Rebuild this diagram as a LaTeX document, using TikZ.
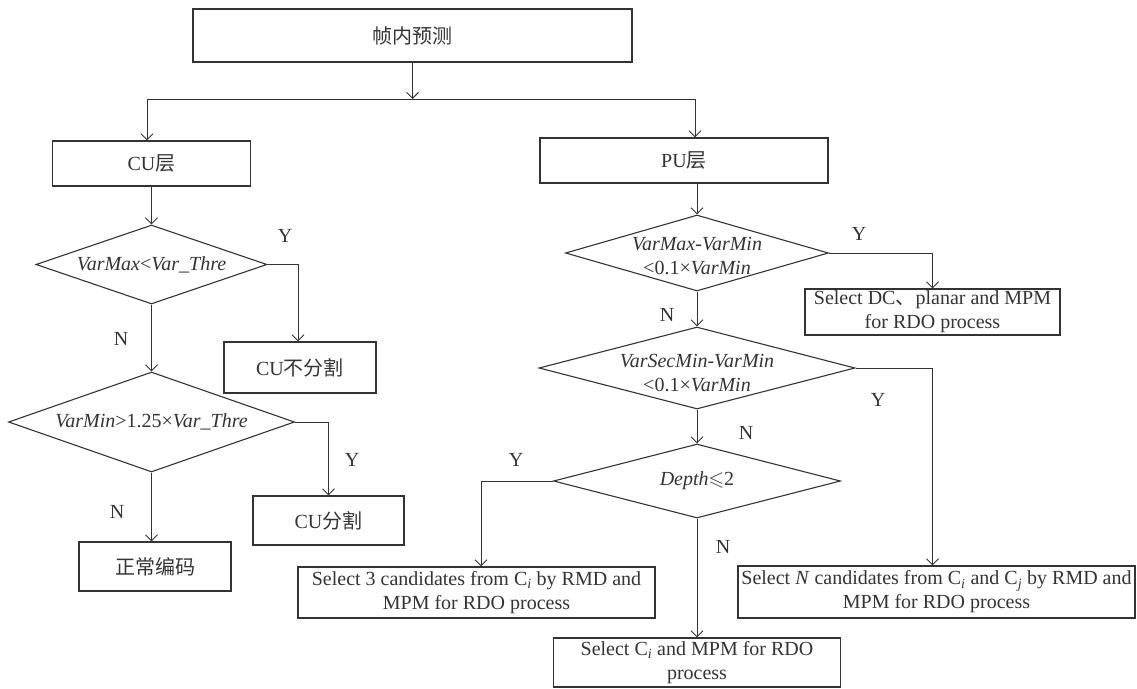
\documentclass[tikz,border=0pt]{standalone}
\usepackage{fontspec}
\usepackage{amssymb}
\setmainfont{Liberation Serif}
\newfontfamily\cjk{Noto Sans CJK SC}
\usetikzlibrary{arrows.meta,shapes.geometric}
\definecolor{ink}{HTML}{333333}
\begin{document}
\begin{tikzpicture}[x=1pt,y=-1pt,
  every node/.style={text=ink, font=\fontsize{20}{24}\selectfont},
  box/.style={draw=ink, line width=1.1pt, inner sep=0pt, align=center},
  dia/.style={draw=ink, line width=1.1pt, diamond, inner sep=0pt},
  arr/.style={draw=ink, line width=1pt, -{Straight Barb[length=6pt,width=12pt]}},
  lbl/.style={inner sep=0pt, align=center}]
\useasboundingbox (0,0) rectangle (1137,688);

% boxes
\node[box, minimum width=439pt, minimum height=53pt] (top) at (412.5,35.5) {{\cjk 帧内预测}};
\node[box, minimum width=198pt, minimum height=45pt] (cu) at (151.5,163.5) {CU{\cjk 层}};
\node[box, minimum width=288pt, minimum height=45pt] (pu) at (684,160.5) {PU{\cjk 层}};
\node[box, minimum width=152pt, minimum height=51pt] (nosplit) at (300,367.5) {CU{\cjk 不分割}};
\node[box, minimum width=152pt, minimum height=49pt] (normal) at (155,566.5) {{\cjk 正常编码}};
\node[box, minimum width=151pt, minimum height=49pt] (split) at (328.5,520.5) {CU{\cjk 分割}};
\node[box, minimum width=255pt, minimum height=46pt] (dc) at (932.5,312) {Select DC{\cjk 、}planar and MPM\\for RDO process};
\node[box, minimum width=357pt, minimum height=51pt] (sel3) at (476.5,592.5) {Select 3 candidates from C\textsubscript{\textit{i}} by RMD and\\MPM for RDO process};
\node[box, minimum width=397pt, minimum height=52pt] (selN) at (936.5,592) {Select \textit{N} candidates from C\textsubscript{\textit{i}} and C\textsubscript{\textit{j}} by RMD and\\MPM for RDO process};
\node[box, minimum width=287pt, minimum height=49pt] (selCi) at (697,662.5) {Select C\textsubscript{\textit{i}} and MPM for RDO\\process};

% diamonds
\node[dia, minimum width=231pt, minimum height=79pt] (d1) at (151.5,264.5) {};
\node[dia, minimum width=286pt, minimum height=100pt] (d2) at (151.5,422) {};
\node[dia, minimum width=263pt, minimum height=76pt] (d3) at (697,253) {};
\node[dia, minimum width=316pt, minimum height=82pt] (d4) at (697,368) {};
\node[dia, minimum width=287pt, minimum height=74pt] (d5) at (697,481) {};

\node[lbl] (t1) at (d1.center) {\textit{VarMax}<\textit{Var\_Thre}};
\node[lbl] (t2) at (d2.center) {\textit{VarMin}>1.25×\textit{Var\_Thre}};
\node[lbl] (t3) at ([yshift=-3pt]d3.center) {\textit{VarMax-VarMin}\\<0.1×\textit{VarMin}};
\node[lbl] (t4) at ([yshift=-5.5pt]d4.center) {\textit{VarSecMin-VarMin}\\<0.1×\textit{VarMin}};
\node[lbl] (t5) at (d5.center) {\textit{Depth}$\leqslant$2};

% connectors
\coordinate (j) at (412.5,99);
\draw[arr] (top.south) -- (j);
\draw[arr] (j) -| ([xshift=-4.5pt]cu.north);
\draw[arr] (j) -| ([xshift=11pt]pu.north);
\draw[arr] (cu.south) -- (d1.north);
\draw[arr] (d1.east) -| ([xshift=-2pt]nosplit.north);
\draw[arr] (d1.south) -- (d2.north);
\draw[arr] (d2.east) -| (split.north);
\draw[arr] (d2.south) -- (d2.south |- normal.north);
\draw[arr] (pu.south -| d3.north) -- (d3.north);
\draw[arr] (d3.east) -| (dc.north);
\draw[arr] (d3.south) -- (d4.north);
\draw[arr] (d4.east) -| (dc.north |- selN.north);
\draw[arr] (d4.south) -- (d5.north);
\draw[arr] (d5.west) -| ([xshift=4.5pt]sel3.north);
\draw[arr] (d5.south) -- (selCi.north);

% Y / N labels
\node[lbl] (y1) at (285,236) {Y};
\node[lbl] (n1) at (121,339) {N};
\node[lbl] (y2) at (352,460) {Y};
\node[lbl] (n2) at (117,512) {N};
\node[lbl] (y3) at (859,234) {Y};
\node[lbl] (n3) at (667,315) {N};
\node[lbl] (y4) at (878,400) {Y};
\node[lbl] (n4) at (746,433) {N};
\node[lbl] (y5) at (516,460) {Y};
\node[lbl] (n5) at (723,547) {N};
\end{tikzpicture}
\end{document}
